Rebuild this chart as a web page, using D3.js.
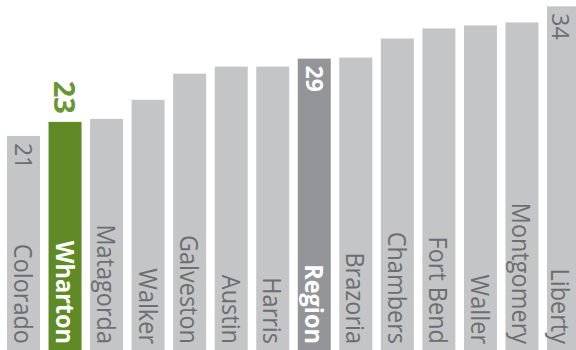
<!DOCTYPE html>
<html>
<head>
<meta charset="utf-8">
<script src="https://cdn.jsdelivr.net/npm/d3@7"></script>
<style>
  html, body { margin: 0; padding: 0; background: #ffffff; }
  svg { display: block; }
  text { font-family: "Open Sans", "Noto Sans", sans-serif; }
</style>
</head>
<body>
<div id="chart"></div>
<script>
const categories = ["Colorado", "Wharton", "Matagorda", "Walker", "Galveston", "Austin", "Harris",
                    "Region", "Brazoria", "Chambers", "Fort Bend", "Waller", "Montgomery", "Liberty"];
const values = [21.3, 22.7, 23.0, 24.9, 27.5, 28.2, 28.2, 29.0, 29.1, 31.0, 32.0, 32.3, 32.6, 34.2];
const labelled = ["Colorado", "Wharton", "Region", "Liberty"];
const highlight = "Wharton";
const regionName = "Region";

const W = 576, H = 350;
const svg = d3.select("#chart").append("svg").attr("width", W).attr("height", H);

const x = d3.scaleBand().domain(categories).range([7, 580]).paddingInner(0.2056).paddingOuter(0);
const y = d3.scaleLinear().domain([0, 34.83]).range([350, 0]);

const data = categories.map((c, i) => ({ name: c, value: values[i] }));

const colorFor = d => d.name === highlight ? "#5f8a26" : (d.name === regionName ? "#939598" : "#c4c5c7");

// keep labels of the bar cut by the right edge inside the picture
const edgeShift = d => Math.max(0, x(d.name) + x.bandwidth() / 2 + 16 - W);

svg.selectAll("rect.bar").data(data).enter().append("rect")
  .attr("class", "bar")
  .attr("x", d => x(d.name))
  .attr("y", d => y(d.value))
  .attr("width", x.bandwidth())
  .attr("height", d => y(0) - y(d.value))
  .attr("fill", colorFor);

// category labels, rotated, at the bottom of each bar
svg.selectAll("text.cat").data(data).enter().append("text")
  .attr("class", "cat")
  .attr("transform", d => `translate(${x(d.name) + x.bandwidth() / 2 - 9.5 - edgeShift(d)},344) rotate(90) scale(0.94,1)`)
  .attr("text-anchor", "end")
  .attr("font-size", 25)
  .attr("font-weight", d => (d.name === highlight || d.name === regionName) ? 700 : 400)
  .attr("fill", d => (d.name === highlight || d.name === regionName) ? "#ffffff" : "#6d6e71")
  .text(d => d.name);

// value labels
const vals = data.filter(d => labelled.includes(d.name));
svg.selectAll("text.val").data(vals).enter().append("text")
  .attr("class", "val")
  .attr("transform", d => {
    const cx = x(d.name) + x.bandwidth() / 2 - edgeShift(d);
    if (d.name === highlight) return `translate(${cx - 11},${y(d.value) - 8}) rotate(90)`;
    return `translate(${cx - 8.5},${y(d.value) + 7}) rotate(90)`;
  })
  .attr("text-anchor", d => d.name === highlight ? "end" : "start")
  .attr("font-size", d => d.name === highlight ? 29 : 23)
  .attr("font-weight", d => (d.name === highlight || d.name === regionName) ? 700 : 400)
  .attr("fill", d => d.name === highlight ? "#6a9632" : (d.name === regionName ? "#ffffff" : "#6d6e71"))
  .text(d => Math.round(d.value));
</script>
</body>
</html>
